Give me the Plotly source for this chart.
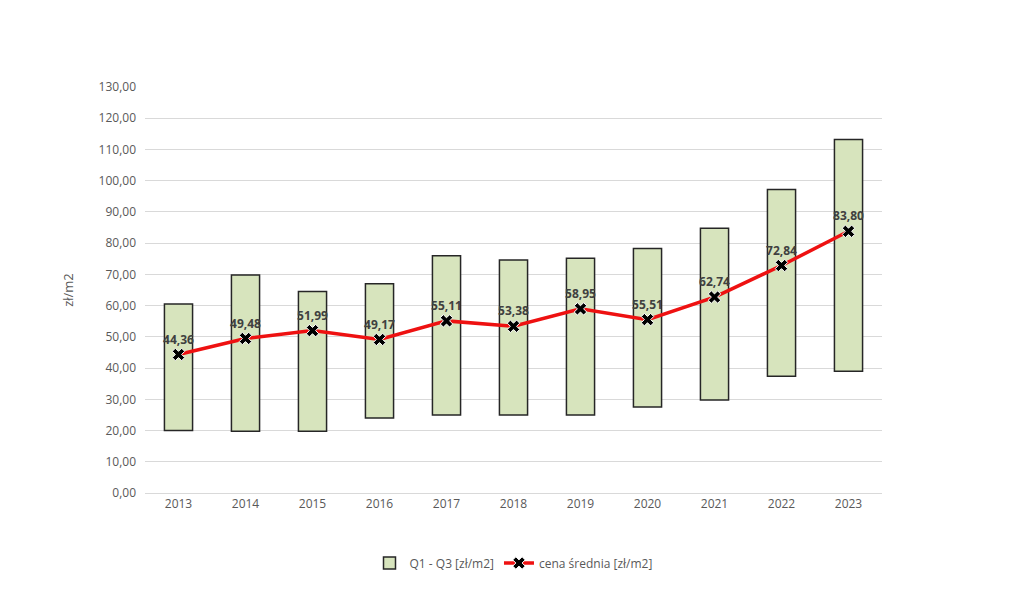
import plotly.graph_objects as go

# lata, kwartyle i cena srednia [zl/m2]
years = ["2013", "2014", "2015", "2016", "2017", "2018", "2019", "2020", "2021", "2022", "2023"]
q1 = [20.0, 19.8, 19.8, 24.0, 25.0, 25.0, 25.0, 27.5, 29.8, 37.4, 39.0]
q3 = [60.5, 69.8, 64.5, 67.0, 76.0, 74.6, 75.2, 78.3, 84.8, 97.2, 113.2]
mean_price = [44.36, 49.48, 51.99, 49.17, 55.11, 53.38, 58.95, 55.51, 62.74, 72.84, 83.80]

y_ticks = [0, 10, 20, 30, 40, 50, 60, 70, 80, 90, 100, 110, 120, 130]

FONT = "Open Sans"
GREY = "#595959"

# the page body adds 8px around the figure, so margins are shifted by that
PAD = 8
plot_w = 737
plot_h = 406

fig = go.Figure()

fig.add_trace(go.Bar(
    x=years,
    y=[hi - lo for lo, hi in zip(q1, q3)],
    base=q1,
    name="Q1 - Q3 [zł/m2]",
    width=0.42,
    marker=dict(color="#d7e4bd", line=dict(color="#262626", width=1.5)),
))

fig.add_trace(go.Scatter(
    x=years,
    y=mean_price,
    name="cena średnia [zł/m2]",
    mode="lines+markers+text",
    line=dict(color="#ee1111", width=3.5),
    marker=dict(symbol="x", size=11, color="#000000", line=dict(color="#ffffff", width=1)),
    text=[f"{v:.2f}".replace(".", ",") for v in mean_price],
    textposition="top center",
    textfont=dict(family=FONT, size=12, color="#404040", weight="bold"),
))

fig.update_layout(
    width=1024 - 2 * PAD,
    height=607 - 2 * PAD,
    margin=dict(l=145 - PAD, r=142 - PAD, t=87 - PAD, b=114 - PAD),
    paper_bgcolor="white",
    plot_bgcolor="white",
    font=dict(family=FONT, size=12, color=GREY),
    showlegend=True,
    legend=dict(
        orientation="h",
        x=0.5, xanchor="center",
        y=-(563 - 493) / plot_h, yanchor="middle",
        font=dict(size=12, color=GREY),
        traceorder="normal",
    ),
)

fig.update_xaxes(
    type="category",
    range=[-0.5, 10.5],
    showgrid=False,
    showline=True,
    linecolor="#d9d9d9",
    ticks="",
    tickfont=dict(size=12, color=GREY),
)

fig.update_yaxes(
    range=[0, 130],
    tickvals=y_ticks,
    ticktext=[f"{v},00" for v in y_ticks],
    showgrid=True,
    gridcolor="#d9d9d9",
    gridwidth=1,
    zeroline=False,
    ticks="",
    ticklabelstandoff=8,
    tickfont=dict(size=12, color=GREY),
    title=dict(text="zł/m2", font=dict(size=13, color=GREY), standoff=22),
)

fig.write_html("out.html")
